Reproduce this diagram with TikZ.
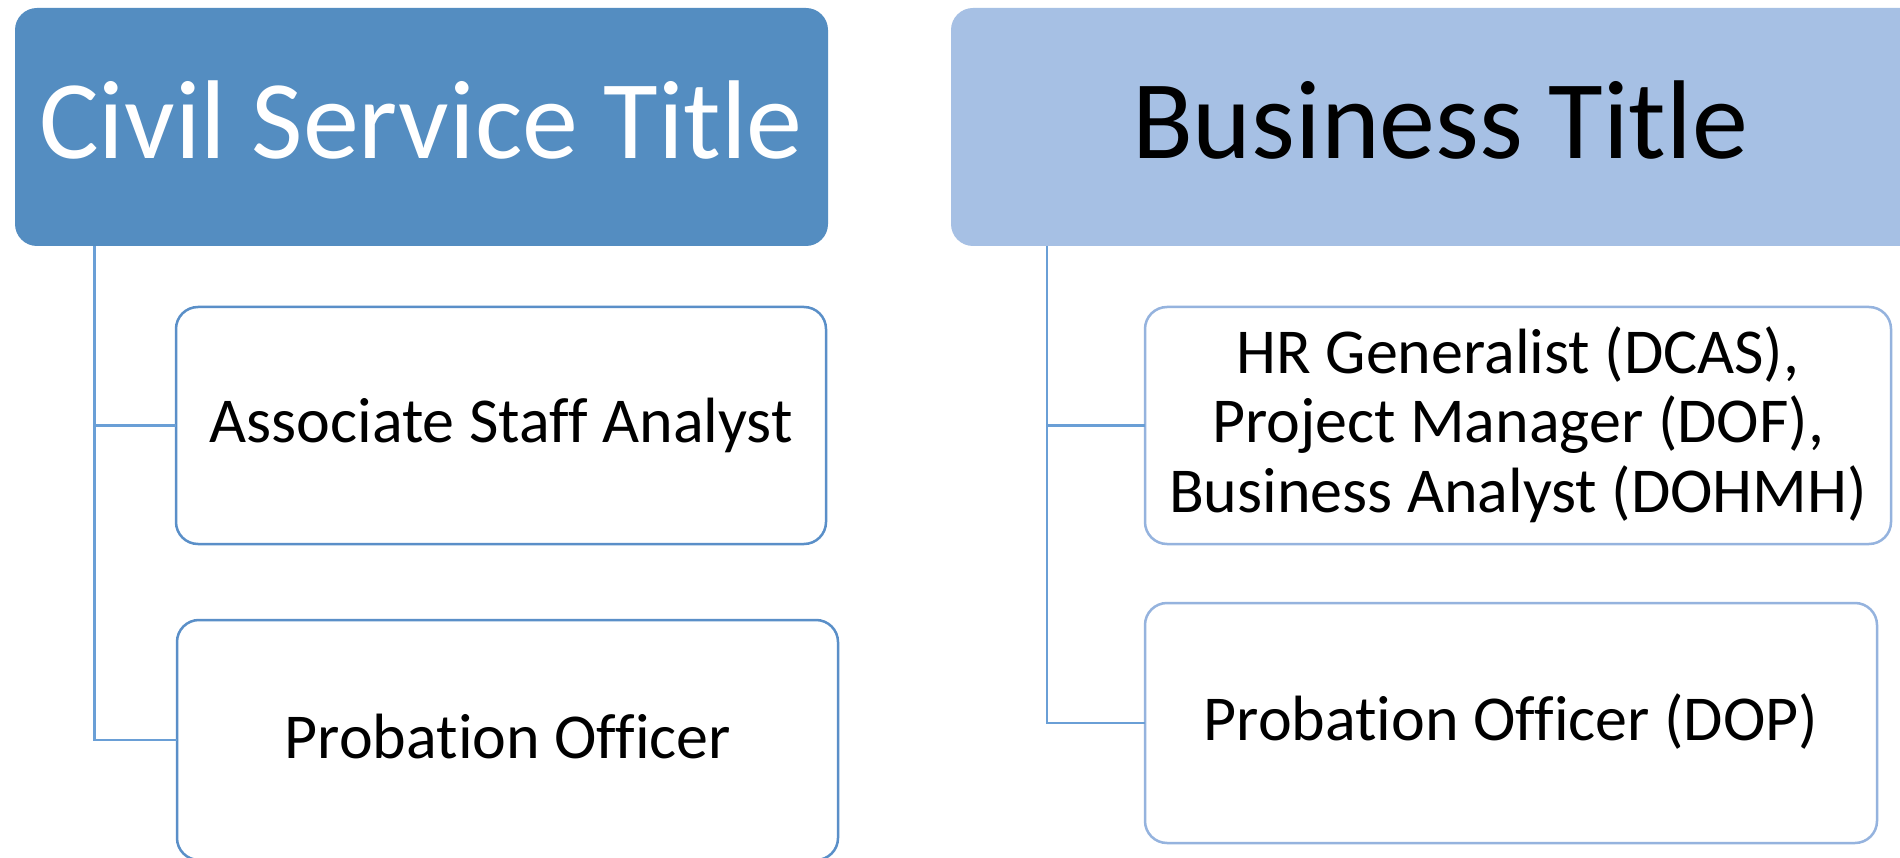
\documentclass[tikz,border=0pt]{standalone}
\usepackage{fontspec}
\setmainfont{Carlito}[RawFeature={-liga}]
\definecolor{darkhead}{HTML}{548DC1}
\definecolor{lighthead}{HTML}{A6C0E4}
\definecolor{lconn}{HTML}{6A9FD6}
\definecolor{lborder}{HTML}{5A8FC8}
\definecolor{rborder}{HTML}{95B3DE}
\begin{document}
\begin{tikzpicture}[x=1pt,y=-1pt,
  headbox/.style={rectangle,rounded corners=22pt,inner sep=0pt,outer sep=0pt,draw=none},
  itembox/.style={rectangle,rounded corners=22pt,inner sep=0pt,outer sep=0pt,line width=2.5pt,fill=white},
  conn/.style={draw=lconn,line width=2.5pt},
  headtext/.style={inner sep=0pt,anchor=base,font=\fontsize{112}{136}\selectfont},
  itemtext/.style={inner sep=0pt,anchor=base,align=center,font=\fontsize{64}{69.5}\selectfont}]
\useasboundingbox (0,0) rectangle (1900,858);
\clip (0,0) rectangle (1900,858);
\fill[white] (0,0) rectangle (1900,858);
% heads
\node[headbox,fill=darkhead,minimum width=813pt,minimum height=238pt] (lhead) at (421.5,127) {};
\node[headbox,fill=lighthead,minimum width=1000pt,minimum height=238pt] (rhead) at (1451,127) {};
\node[headtext,text=white] (lheadtxt) at (421,159) {Civil Service Title};
\node[headtext,text=black] (rheadtxt) at (1440,159) {Business Title};
% items
\node[itembox,draw=lborder,minimum width=650pt,minimum height=237pt] (l1) at (501,425.5) {};
\node[itembox,draw=lborder,minimum width=661pt,minimum height=240pt] (l2) at (507.5,740) {};
\node[itembox,draw=rborder,minimum width=746pt,minimum height=237pt] (r1) at (1518,425.5) {};
\node[itembox,draw=rborder,minimum width=732pt,minimum height=240pt] (r2) at (1511,723) {};
\node[itemtext] (l1txt) at (501,442) {Associate Staff Analyst};
\node[itemtext] (l2txt) at (508,758) {Probation Officer};
\node[itemtext] (r1txt) at (1518,512) {HR Generalist (DCAS),\\Project Manager (DOF),\\Business Analyst (DOHMH)};
\node[itemtext] (r2txt) at (1511,740) {Probation Officer (DOP)};
% connectors
\coordinate (lstem) at (94.7,0);
\coordinate (rstem) at (1047,0);
\draw[conn] (lstem |- lhead.south) |- (l1.west);
\draw[conn] (lstem |- lhead.south) |- (l2.west);
\draw[conn] (rstem |- rhead.south) |- (r1.west);
\draw[conn] (rstem |- rhead.south) |- (r2.west);
\end{tikzpicture}
\end{document}
